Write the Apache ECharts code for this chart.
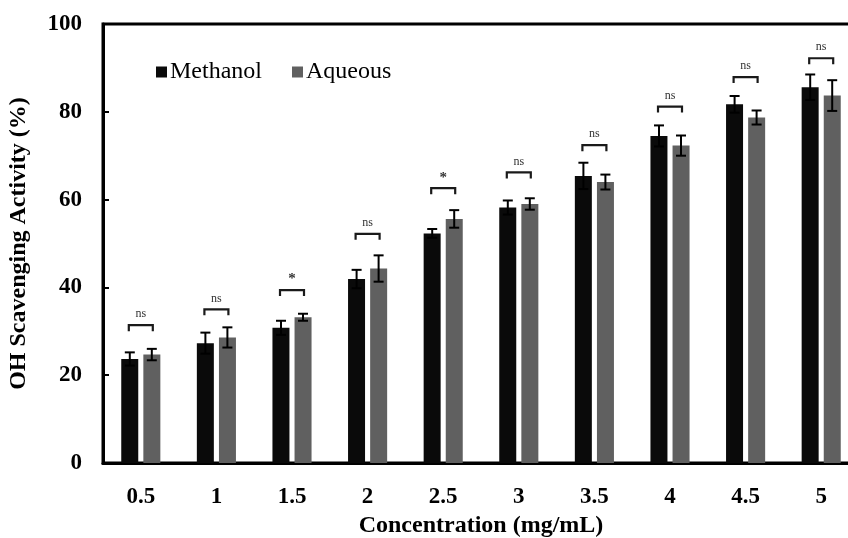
<!DOCTYPE html>
<html>
<head>
<meta charset="utf-8">
<script src="https://cdn.jsdelivr.net/npm/echarts@6/dist/echarts.min.js"></script>
<style>
  html, body { margin: 0; padding: 0; background: #fff; }
  #chart { width: 848px; height: 538px; }
</style>
</head>
<body>
<div id="chart"></div>
<script>
// concentrations (mg/mL)
var categories = ['0.5', '1', '1.5', '2', '2.5', '3', '3.5', '4', '4.5', '5'];
// OH scavenging activity (%)
var methanol    = [23.7, 27.3, 30.8, 41.9, 52.3, 58.2, 65.4, 74.5, 81.7, 85.6];
var methanolErr = [1.5, 2.4, 1.6, 2.1, 1.0, 1.6, 3.0, 2.4, 1.9, 2.9];
var aqueous     = [24.7, 28.6, 33.2, 44.3, 55.6, 59.0, 64.0, 72.3, 78.7, 83.7];
var aqueousErr  = [1.3, 2.3, 0.8, 3.0, 2.0, 1.3, 1.7, 2.3, 1.6, 3.5];
// significance bracket height and label
var sigLevel = [31.4, 35.0, 39.4, 52.2, 62.6, 66.2, 72.4, 81.2, 87.9, 92.2];
var sigLabel = ['ns', 'ns', '*', 'ns', '*', 'ns', 'ns', 'ns', 'ns', 'ns'];
var yTicks = [0, 20, 40, 60, 80, 100];

var FONT = "'Liberation Serif', 'Times New Roman', serif";
var BAR_OFF = 11; // half distance between the two bar centres (px)

var myChart = echarts.init(document.getElementById('chart'));

function errRender(vals, errs, sign) {
  return function (params, api) {
    var i = api.value(0);
    var c = api.coord([i, vals[i]]);
    var x = c[0] + sign * BAR_OFF;
    var top = api.coord([i, vals[i] + errs[i]])[1];
    var bot = api.coord([i, vals[i] - errs[i]])[1];
    var st = { stroke: '#000', lineWidth: 2 };
    return {
      type: 'group',
      children: [
        { type: 'line', shape: { x1: x, y1: top, x2: x, y2: bot }, style: st },
        { type: 'line', shape: { x1: x - 5, y1: top, x2: x + 5, y2: top }, style: st },
        { type: 'line', shape: { x1: x - 5, y1: bot, x2: x + 5, y2: bot }, style: st }
      ]
    };
  };
}

function sigRender(params, api) {
  var i = api.value(0);
  var c = api.coord([i, sigLevel[i]]);
  var x0 = c[0] - 12, x1 = c[0] + 12, y = c[1];
  var isStar = sigLabel[i] === '*';
  return {
    type: 'group',
    children: [
      {
        type: 'polyline',
        shape: { points: [[x0, y + 6], [x0, y], [x1, y], [x1, y + 6]] },
        style: { stroke: '#1a1a1a', lineWidth: 2.2, fill: null }
      },
      {
        type: 'text',
        style: {
          text: sigLabel[i],
          x: c[0], y: y - (isStar ? 3 : 5),
          align: 'center', verticalAlign: 'bottom',
          font: (isStar ? 'bold 15px ' : '12px ') + FONT,
          fill: '#333'
        }
      }
    ]
  };
}

var idx = categories.map(function (c, i) { return [i]; });

var option = {
  animation: false,
  backgroundColor: '#fff',
  textStyle: { fontFamily: FONT, color: '#000' },
  grid: {
    left: 103, top: 24, width: 756, height: 439,
    outerBoundsMode: 'none', containLabel: false,
    show: true, borderColor: '#000', borderWidth: 3, backgroundColor: 'transparent'
  },
  legend: {
    left: 151, top: 55,
    itemWidth: 11, itemHeight: 11, itemGap: 30,
    icon: 'rect',
    textStyle: { fontFamily: FONT, fontSize: 24, color: '#000', padding: [0, 0, 0, -2] },
    data: ['Methanol', 'Aqueous']
  },
  xAxis: {
    type: 'category',
    data: categories,
    axisLine: { show: true, lineStyle: { color: '#000', width: 3 } },
    axisTick: { show: false },
    axisLabel: { margin: 23, fontFamily: FONT, fontSize: 23, fontWeight: 'bold', color: '#000' },
    name: 'Concentration (mg/mL)',
    nameLocation: 'middle',
    nameGap: 51,
    nameTextStyle: { fontFamily: FONT, fontSize: 24, fontWeight: 'bold', color: '#000' }
  },
  yAxis: {
    type: 'value',
    min: yTicks[0], max: yTicks[yTicks.length - 1], interval: 20,
    splitLine: { show: false },
    axisLine: { show: true, lineStyle: { color: '#000', width: 3 } },
    axisTick: { show: true, inside: true, length: 6, lineStyle: { color: '#000', width: 2 } },
    axisLabel: { margin: 21, fontFamily: FONT, fontSize: 23, fontWeight: 'bold', color: '#000' },
    name: 'OH Scavenging Activity (%)',
    nameLocation: 'middle',
    nameGap: 72,
    nameTextStyle: { fontFamily: FONT, fontSize: 24, fontWeight: 'bold', color: '#000' }
  },
  series: [
    {
      name: 'Methanol', type: 'bar', data: methanol,
      barWidth: 17, barGap: '30%',
      itemStyle: { color: '#0a0a0a' }
    },
    {
      name: 'Aqueous', type: 'bar', data: aqueous,
      barWidth: 17, barGap: '30%',
      itemStyle: { color: '#606060' }
    },
    { type: 'custom', data: idx, renderItem: errRender(methanol, methanolErr, -1), z: 5 },
    { type: 'custom', data: idx, renderItem: errRender(aqueous, aqueousErr, 1), z: 5 },
    { type: 'custom', data: idx, renderItem: sigRender, z: 5 }
  ]
};

myChart.setOption(option);
</script>
</body>
</html>
